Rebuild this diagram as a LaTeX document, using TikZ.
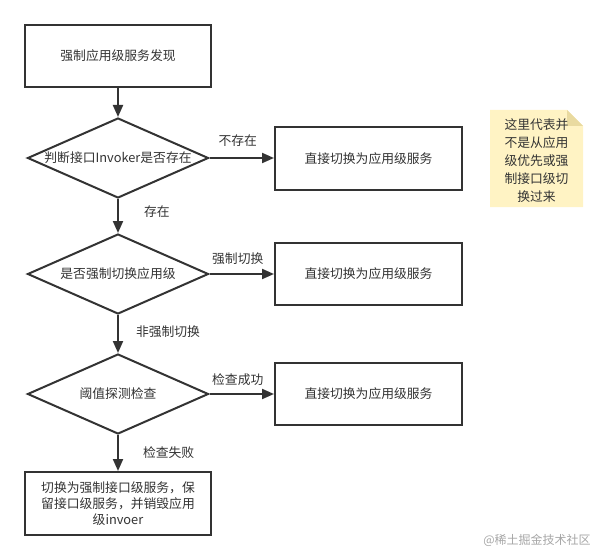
\documentclass[tikz,border=0pt]{standalone}
\usepackage{fontspec}
\setmainfont{Noto Sans CJK SC}
\usetikzlibrary{shapes.geometric,arrows.meta}

\definecolor{linegray}{HTML}{333333}
\definecolor{textgray}{HTML}{333333}
\definecolor{notefill}{HTML}{FFF3C4}
\definecolor{notefold}{HTML}{E9DAA0}
\definecolor{markgray}{HTML}{A6A6A6}
\newcommand{\flowfont}{\fontsize{12.8pt}{16pt}\selectfont}
\newcommand{\notefont}{\fontsize{12.8pt}{18pt}\selectfont}

\tikzset{
    box/.style={draw=linegray, line width=2pt, fill=white, text=textgray,
        minimum width=186pt, minimum height=62pt, inner sep=0pt, align=center, font=\flowfont},
    decision/.style={diamond, draw=linegray, line width=2pt, fill=white, text=textgray,
        minimum width=181pt, minimum height=80pt, inner sep=0pt, font=\flowfont},
    flow/.style={draw=linegray, line width=2pt, -{Triangle[length=12pt,width=10pt]}},
    lbl/.style={text=textgray, inner sep=0pt, font=\flowfont}
}

\begin{document}
\begin{tikzpicture}[x=1pt, y=-1pt]
                \useasboundingbox (0, 0) rectangle (610, 559);

                % main column
                \node[box] (start) at (118, 56) {强制应用级服务发现};
                \node[decision] (check1) at (118, 158) {\makebox[0pt]{判断接口Invoker是否存在}};
                \node[decision] (check2) at (118, 274) {\makebox[0pt]{是否强制切换应用级}};
                \node[decision] (check3) at (118, 394) {\makebox[0pt]{阈值探测检查}};
                \node[box, minimum height=63pt] (fallback) at (118, 503.5)
                    {切换为强制接口级服务，保\\留接口级服务，并销毁应用\\级invoer};

                % right column
                \node[box, minimum width=187pt, minimum height=63pt] (switch1) at (368.5, 158.5) {直接切换为应用级服务};
                \node[box, minimum width=187pt] (switch2) at (368.5, 274) {直接切换为应用级服务};
                \node[box, minimum width=187pt] (switch3) at (368.5, 394) {直接切换为应用级服务};

                \draw[flow] (start) -- (check1);
                \draw[flow] (check1.east) -- node[lbl, above=10pt, xshift=-4pt] {不存在} (switch1.west |- check1.east);
                \draw[flow] (check1) -- node[lbl, pos=0.36, anchor=west, xshift=25pt] {存在} (check2);
                \draw[flow] (check2.east) -- node[lbl, above=8pt, xshift=-4pt] {强制切换} (switch2.west |- check2.east);
                \draw[flow] (check2) -- node[lbl, pos=0.44, anchor=west, xshift=17pt] {非强制切换} (check3);
                \draw[flow] (check3.east) -- node[lbl, above=7pt, xshift=-4pt] {检查成功} (switch3.west |- check3.east);
                \draw[flow] (check3) -- node[lbl, pos=0.5, anchor=west, xshift=24pt] {检查失败} (fallback);

                % note
                \fill[notefill] (490, 110) -- (567, 110) -- (583, 126) -- (583, 207) -- (490, 207) -- cycle;
                \fill[notefold] (567, 110) -- (567, 126) -- (583, 126) -- cycle;
                \node[text=textgray, align=center, font=\notefont, inner sep=0pt] (note) at (536.5, 161)
                    {这里代表并\\不是从应用\\级优先或强\\制接口级切\\换过来};

                \node[text=markgray, inner sep=0pt, font=\fontsize{12pt}{14pt}\selectfont] (mark) at (537, 540) {@稀土掘金技术社区};
            \end{tikzpicture}
\end{document}
